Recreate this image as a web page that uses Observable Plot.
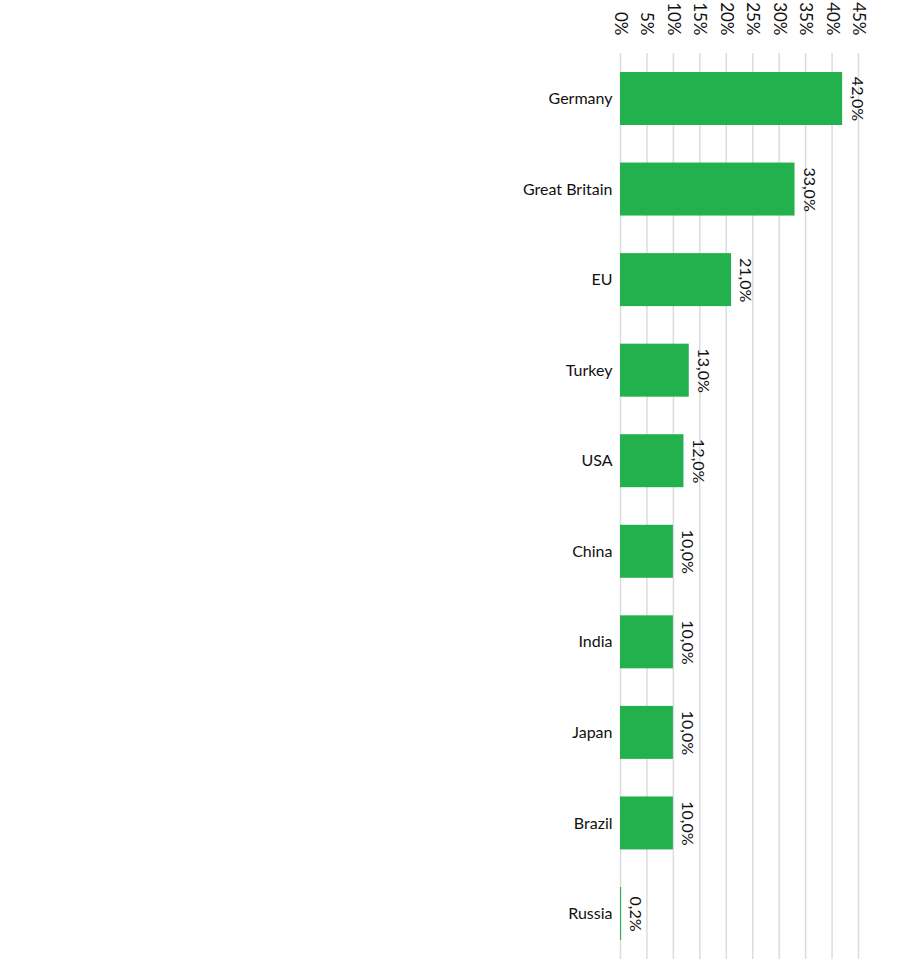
<!DOCTYPE html>
<html>
<head>
<meta charset="utf-8">
<script src="https://cdn.jsdelivr.net/npm/d3@7"></script>
<script src="https://cdn.jsdelivr.net/npm/@observablehq/plot@0.6"></script>
<style>
  html, body { margin: 0; padding: 0; background: #fff; }
  #chart svg { display: block; }
</style>
</head>
<body>
<div id="chart"></div>
<script>
const countries = ["Germany", "Great Britain", "EU", "Turkey", "USA", "China", "India", "Japan", "Brazil", "Russia"];
const shares = [42.0, 33.0, 21.0, 13.0, 12.0, 10.0, 10.0, 10.0, 10.0, 0.2];
const xTicks = [0, 5, 10, 15, 20, 25, 30, 35, 40, 45];

const data = countries.map((c, i) => ({country: c, value: shares[i]}));
const fmt = v => v.toFixed(1).replace(".", ",") + "%";

const chart = Plot.plot({
  width: 901,
  height: 969,
  marginLeft: 620,
  marginRight: 43,
  marginTop: 53,
  marginBottom: 10,
  style: {fontFamily: "Lato, 'Open Sans', sans-serif", fontSize: "16px", color: "#111", background: "#fff"},
  x: {domain: [0, 45]},
  y: {domain: countries, paddingInner: 0.415, paddingOuter: 0.21, round: false},
  marks: [
    Plot.gridX(xTicks, {stroke: "#dcdcdc", strokeOpacity: 1, strokeWidth: 1.5}),
    Plot.barX(data, {x: "value", y: "country", fill: "#22b14c"}),
    Plot.text(data, {x: "value", y: "country", text: d => fmt(d.value), rotate: 90, textAnchor: "middle", lineAnchor: "middle", dx: 14, fill: "#111", fontSize: 16}),
    Plot.axisX({anchor: "top", ticks: xTicks, tickSize: 0, tickPadding: 18, tickRotate: 90, tickFormat: d => d + "%", fontSize: 17, label: null}),
    Plot.axisY({tickSize: 0, tickPadding: 8, fontSize: 16, label: null})
  ]
});
document.getElementById("chart").appendChild(chart);
</script>
</body>
</html>
